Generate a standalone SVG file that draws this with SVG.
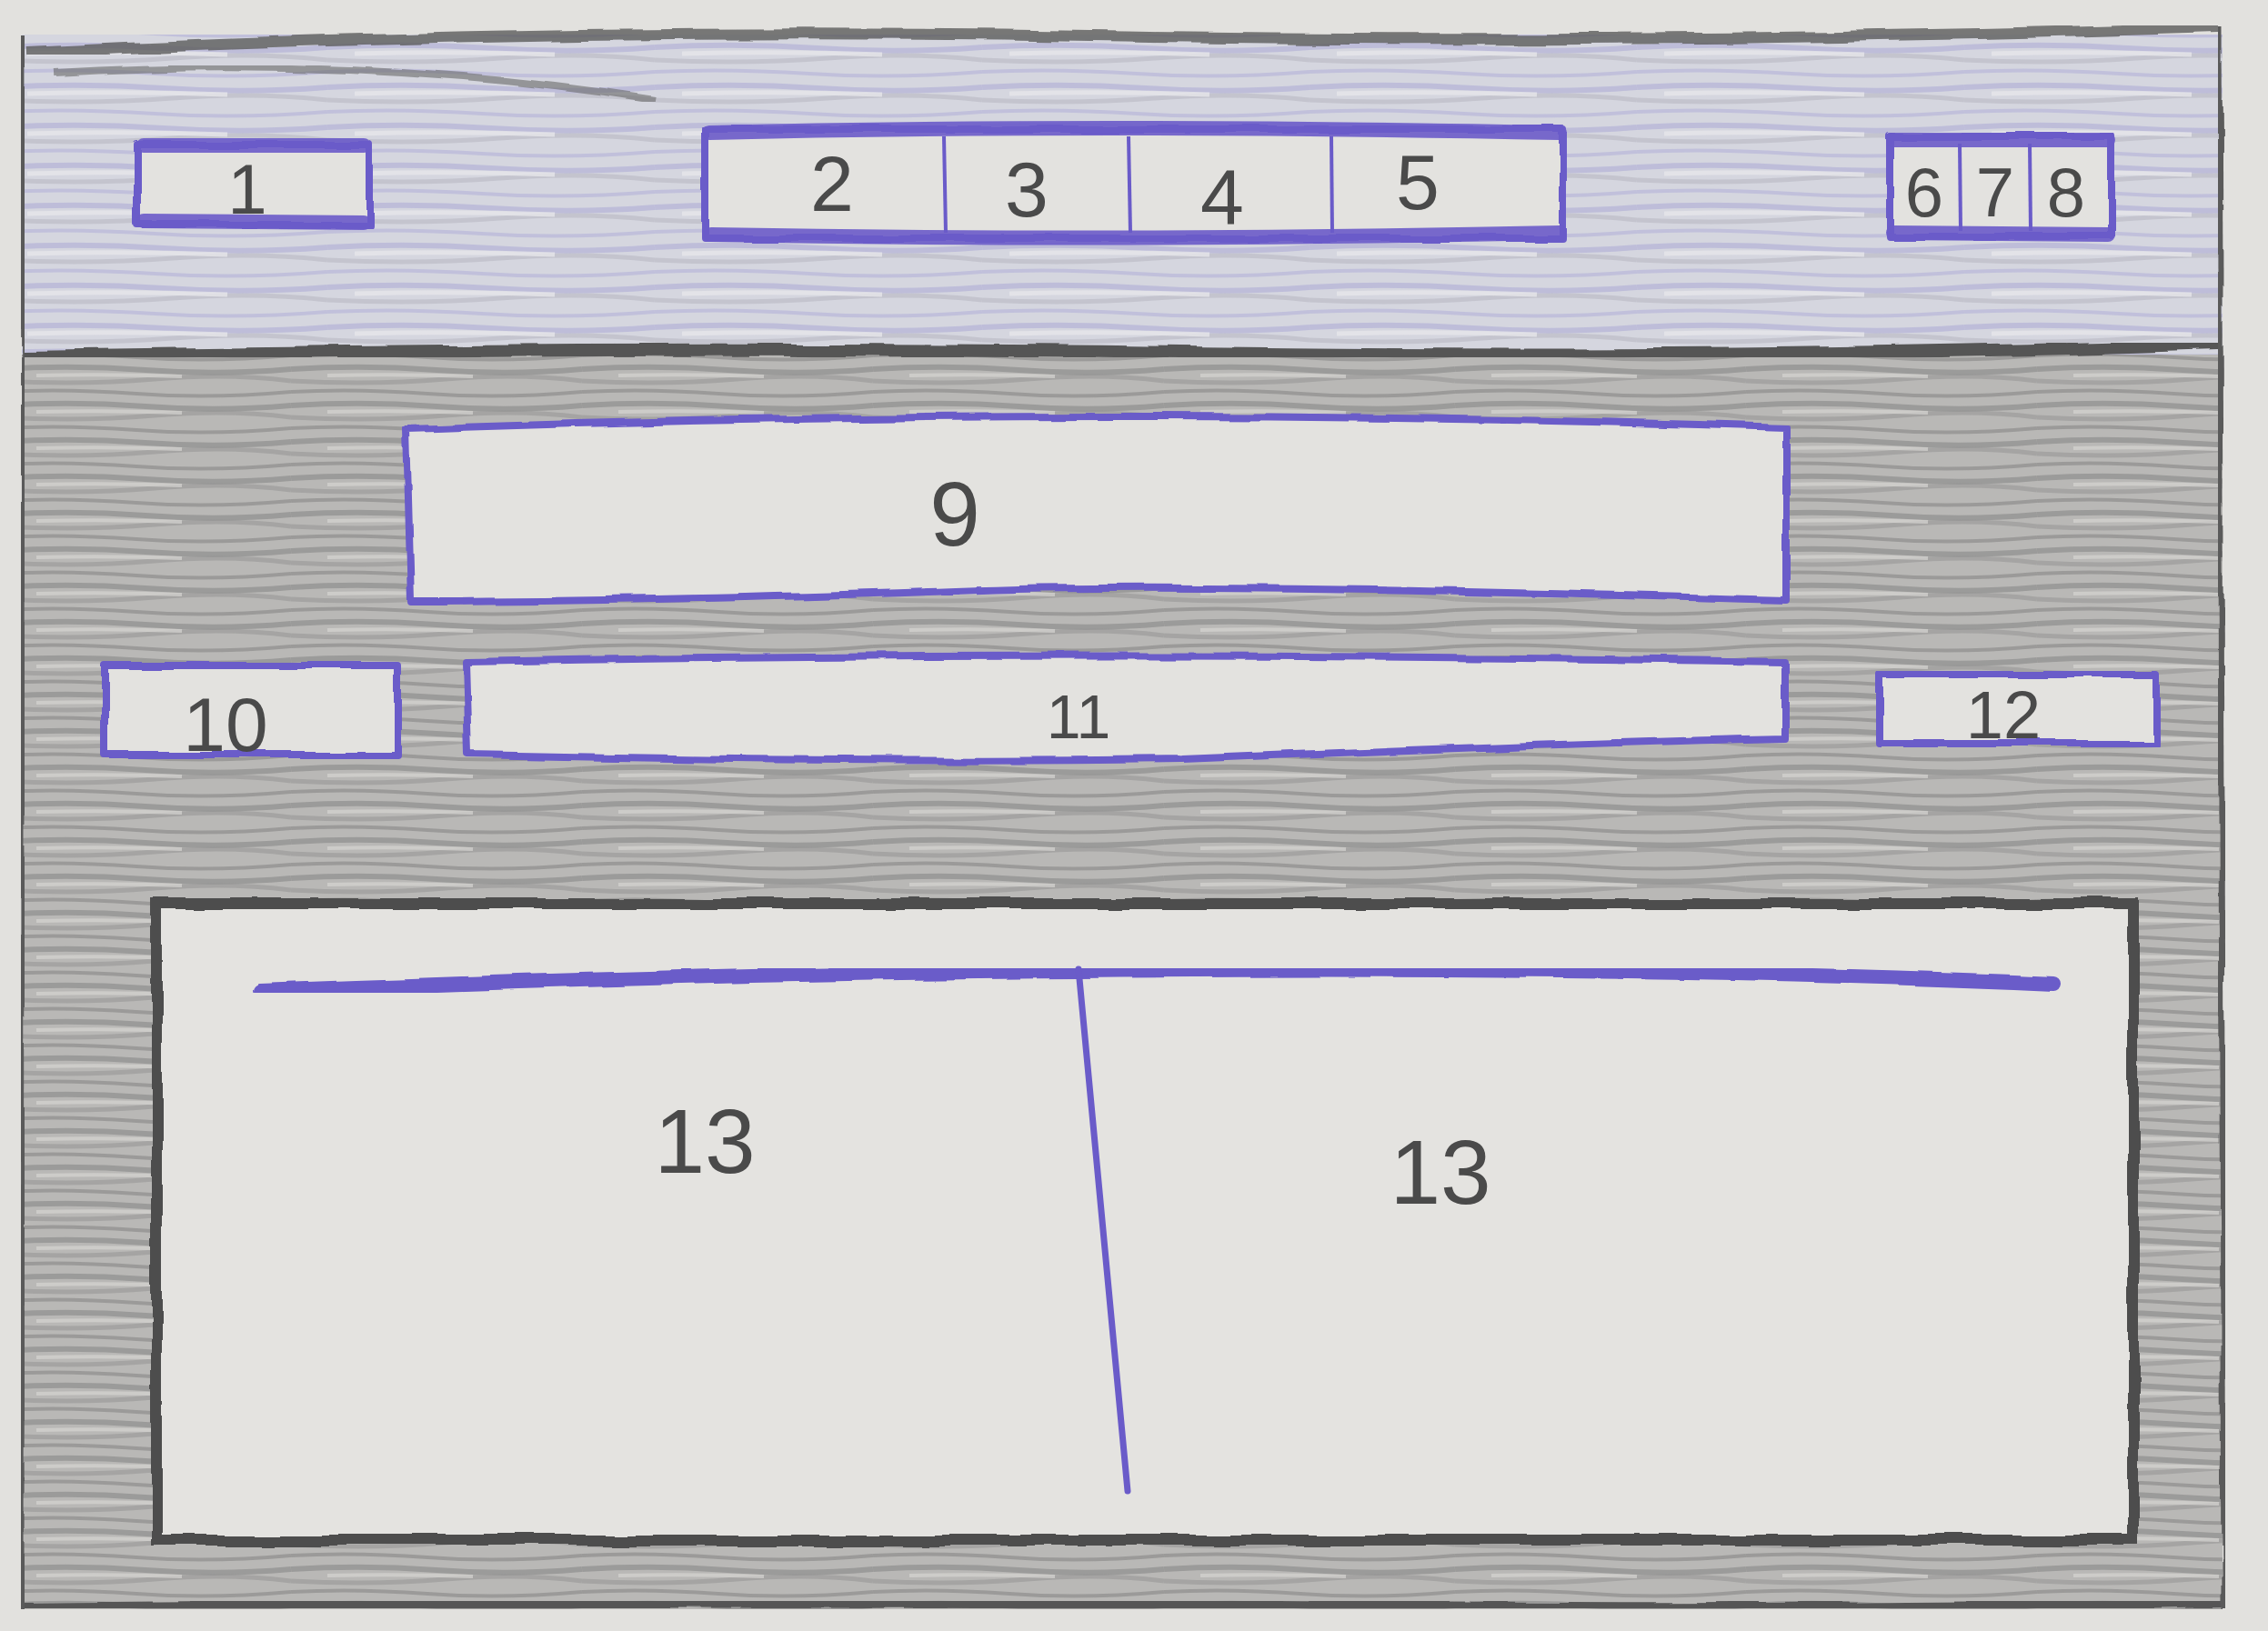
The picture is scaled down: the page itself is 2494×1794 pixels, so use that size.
<svg xmlns="http://www.w3.org/2000/svg" width="2494" height="1794" viewBox="0 0 2494 1794">
<defs>
<style>
.lbl{font-family:"Liberation Sans","DejaVu Sans",sans-serif;fill:#4a4a4a;text-anchor:middle;font-weight:normal}
.box{fill:#e3e2df;stroke:#6a5bc9;stroke-width:8;stroke-linejoin:round}
.edge{fill:none;stroke:#6a5bc9;stroke-width:16;stroke-linecap:round;opacity:.9}
.thin{stroke:#6a5bc9;stroke-width:4;fill:none}
.frame{fill:none;stroke:#5a5a5a;stroke-width:7}
</style>
<filter id="rough" x="-5%" y="-5%" width="110%" height="110%">
<feTurbulence type="fractalNoise" baseFrequency="0.015" numOctaves="2" seed="3"/>
<feDisplacementMap in="SourceGraphic" scale="9"/>
</filter>
<pattern id="pencil" width="320" height="40" patternUnits="userSpaceOnUse">
<rect width="320" height="40" fill="#b9b8b6"/>
<path d="M0 6 Q80 1 160 7 T320 6" stroke="#7e7e7e" stroke-width="6" fill="none" opacity=".5"/>
<path d="M0 19 Q90 24 170 17 T320 19" stroke="#8c8c8c" stroke-width="5" fill="none" opacity=".45"/>
<path d="M0 31 Q70 27 150 33 T320 31" stroke="#6e6e6e" stroke-width="4" fill="none" opacity=".4"/>
<path d="M40 13 Q120 11 200 14" stroke="#d6d5d2" stroke-width="4" fill="none" opacity=".7"/>
</pattern>
<pattern id="bluepencil" width="360" height="44" patternUnits="userSpaceOnUse">
<rect width="360" height="44" fill="#d5d6df"/>
<path d="M0 8 Q90 3 180 9 T360 8" stroke="#a29fd4" stroke-width="6" fill="none" opacity=".45"/>
<path d="M0 22 Q100 27 190 20 T360 22" stroke="#b0b0ba" stroke-width="5" fill="none" opacity=".45"/>
<path d="M0 35 Q80 31 170 37 T360 35" stroke="#9490d2" stroke-width="4" fill="none" opacity=".3"/>
<path d="M30 15 Q140 12 250 16" stroke="#e6e6ea" stroke-width="5" fill="none" opacity=".8"/>
</pattern>
</defs>

<rect width="2494" height="1794" fill="#e2e1de"/>

<g id="frame">
<rect x="24" y="38" width="2420" height="352" fill="url(#bluepencil)"/>
<rect x="24" y="390" width="2420" height="1380" fill="url(#pencil)"/>
<path d="M30 58 Q600 30 1200 40 T2440 30" stroke="#5d5d5d" stroke-width="12" fill="none" opacity=".8" filter="url(#rough)"/>
<path d="M60 80 Q400 60 720 110" stroke="#6a6a6a" stroke-width="8" fill="none" opacity=".6" filter="url(#rough)"/>
<path d="M24 392 Q700 380 1300 388 T2440 378" stroke="#555" stroke-width="14" fill="none" filter="url(#rough)"/>
<path d="M24 1768 Q800 1760 1400 1766 T2444 1762" stroke="#555" stroke-width="12" fill="none" filter="url(#rough)"/>
<path d="M26 40 L24 1770" class="frame" filter="url(#rough)"/>
<path d="M2440 30 L2446 1770" class="frame" filter="url(#rough)"/>
</g>

<g id="node-1">
<rect class="box" x="151" y="159" width="255" height="88" filter="url(#rough)"/>
<path class="edge" d="M158 160 L400 160 M158 243 L400 245"/>
<text class="lbl" x="272" y="235" font-size="78">1</text>
</g>

<g id="node-2-5">
<rect class="box" x="776" y="142" width="942" height="120" filter="url(#rough)"/>
<path class="edge" d="M780 146 Q1200 136 1715 146 M782 258 Q1250 266 1715 256"/>
<line class="thin" x1="1038" y1="150" x2="1040" y2="256"/>
<line class="thin" x1="1241" y1="150" x2="1243" y2="256"/>
<line class="thin" x1="1464" y1="150" x2="1465" y2="256"/>
</g>
<g id="node-2"><text class="lbl" x="915" y="232" font-size="86">2</text></g>
<g id="node-3"><text class="lbl" x="1129" y="238" font-size="86">3</text></g>
<g id="node-4"><text class="lbl" x="1344" y="246" font-size="86">4</text></g>
<g id="node-5"><text class="lbl" x="1559" y="230" font-size="86">5</text></g>

<g id="node-6-8">
<rect class="box" x="2078" y="150" width="244" height="110" filter="url(#rough)"/>
<path class="edge" d="M2082 154 L2318 154 M2082 256 L2318 258"/>
<line class="thin" x1="2155" y1="158" x2="2156" y2="254"/>
<line class="thin" x1="2232" y1="158" x2="2233" y2="254"/>
</g>
<g id="node-6"><text class="lbl" x="2116" y="238" font-size="76">6</text></g>
<g id="node-7"><text class="lbl" x="2194" y="238" font-size="76">7</text></g>
<g id="node-8"><text class="lbl" x="2272" y="238" font-size="76">8</text></g>

<g id="node-9">
<path class="box" d="M447 472 Q1200 445 1964 470 L1964 660 Q1300 640 1050 650 Q700 662 452 662 Z" filter="url(#rough)"/>
<text class="lbl" x="1050" y="600" font-size="100">9</text>
</g>

<g id="node-10">
<rect class="box" x="115" y="732" width="322" height="98" filter="url(#rough)"/>
<text class="lbl" x="248" y="826" font-size="84">10</text>
</g>

<g id="node-11">
<path class="box" d="M512 728 Q1200 715 1962 728 L1962 812 Q1700 818 1300 835 Q1000 840 515 830 Z" filter="url(#rough)"/>
<text class="lbl" x="1186" y="812" font-size="68">11</text>
</g>

<g id="node-12">
<rect class="box" x="2067" y="742" width="303" height="76" filter="url(#rough)"/>
<text class="lbl" x="2203" y="812" font-size="74">12</text>
</g>

<g id="node-13">
<rect x="172" y="994" width="2174" height="700" fill="#e4e3e0" stroke="#4e4e4e" stroke-width="12" filter="url(#rough)"/>
<path d="M286 1090 Q800 1070 1185 1068 Q1800 1062 2258 1082" stroke="#6a5bc9" stroke-width="16" fill="none" stroke-linecap="round" filter="url(#rough)"/>
<path d="M1186 1066 L1240 1640" stroke="#6a5bc9" stroke-width="7" fill="none" stroke-linecap="round"/>
<text class="lbl" x="775" y="1290" font-size="100">13</text>
<text class="lbl" x="1584" y="1324" font-size="100">13</text>
</g>

<g id="connectors"></g>
</svg>
